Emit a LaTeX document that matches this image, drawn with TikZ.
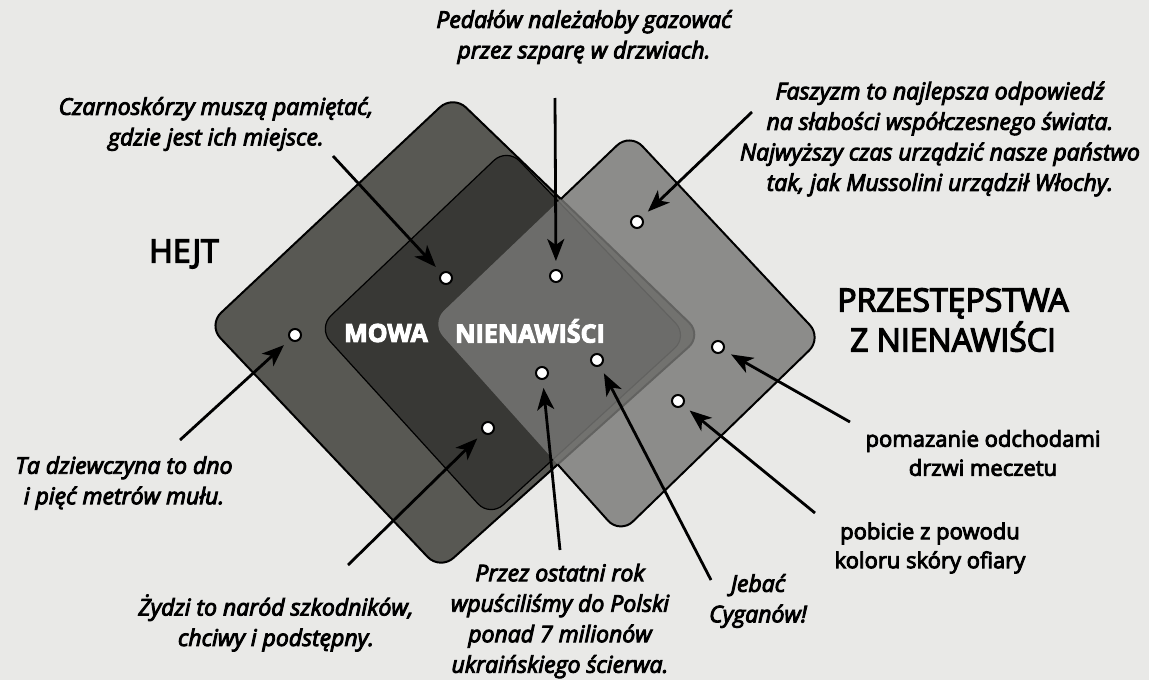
\documentclass[tikz,border=0pt]{standalone}
\usepackage{fontspec}
\setmainfont{Open Sans}[FakeBold=4]
\usetikzlibrary{calc,arrows.meta}
\definecolor{paper}{RGB}{233,233,231}
\definecolor{hejtgray}{RGB}{88,88,83}
\definecolor{mowagray}{RGB}{56,56,53}
\definecolor{crimegray}{RGB}{120,120,118}
\def\rhombpath(#1)(#2)(#3)(#4){($(#1)!0.5!(#2)$) -- (#2) -- (#3) -- (#4) -- (#1) -- cycle}
\tikzset{
  quote/.style={font=\fontsize{23}{30.5}\selectfont\itshape, align=center, inner sep=0pt},
  fact/.style={font=\fontsize{22}{29}\selectfont, align=center, inner sep=0pt},
  heading/.style={font=\fontsize{32}{40}\selectfont, align=center, inner sep=0pt},
  areaname/.style={font=\fontsize{25}{28}\selectfont\bfseries, text=white, inner sep=0pt},
  spot/.style={circle, draw=black, fill=white, line width=2pt, minimum size=12pt, inner sep=0pt},
  pointer/.style={line width=2.8pt, -{Stealth[length=22pt,width=17pt,inset=6pt]}, shorten >=8pt},
}

\begin{document}
\begin{tikzpicture}[x=1pt, y=-1pt]
	%%%%% START %%%%%
	
	\fill[paper] (0,0) rectangle (1149,680);
	
	\coordinate (hT) at (453,95);
	\coordinate (hR) at (702,335);
	\coordinate (hB) at (440,570);
	\coordinate (hL) at (208,325);
	
	\coordinate (mT) at (507,148);
	\coordinate (mR) at (688,336);
	\coordinate (mB) at (490,517);
	\coordinate (mL) at (318,328);
	
	\coordinate (pT) at (630,133);
	\coordinate (pR) at (822,338);
	\coordinate (pB) at (620,534);
	\coordinate (pL) at (431,323);
	
	\draw[line width=2pt, fill=hejtgray, rounded corners=18pt] \rhombpath(hT)(hR)(hB)(hL);
	\draw[line width=1.2pt, fill=mowagray, rounded corners=18pt] \rhombpath(mT)(mR)(mB)(mL);
	\fill[crimegray, fill opacity=0.82, rounded corners=18pt] \rhombpath(pT)(pR)(pB)(pL);
	\begin{scope}[even odd rule, rounded corners=18pt]
		\clip (0,0) rectangle (1149,680) \rhombpath(hT)(hR)(hB)(hL);
		\draw[line width=2pt] \rhombpath(pT)(pR)(pB)(pL);
	\end{scope}
	
	\node[heading] (hejtTitle) at (184,254) {HEJT};
	\node[heading] (crimeTitle) at (953,320) {PRZESTĘPSTWA\\Z NIENAWIŚCI};
	\node[areaname] (mowaWord) at (386,333) {MOWA};
	\node[areaname] (nienWord) at (530,331) {NIENAWIŚCI};
	
	\node[quote] (czLabel) at (216,124) {Czarnoskórzy muszą pamiętać,\\gdzie jest ich miejsce.};
	\node[quote] (pedLabel) at (584,37) {Pedałów należałoby gazować\\przez szparę w drzwiach.};
	\node[quote] (fasLabel) at (940,139) {Faszyzm to najlepsza odpowiedź\\na słabości współczesnego świata.\\Najwyższy czas urządzić nasze państwo\\tak, jak Mussolini urządził Włochy.};
	\node[quote] (taLabel) at (124,483) {Ta dziewczyna to dno\\i pięć metrów mułu.};
	\node[quote] (zydLabel) at (276,623) {Żydzi to naród szkodników,\\chciwy i podstępny.};
	\node[quote] (przLabel) at (560,621) {Przez ostatni rok\\wpuściliśmy do Polski\\ponad 7 milionów\\ukraińskiego ścierwa.};
	\node[quote] (jebLabel) at (758,601) {Jebać\\Cyganów!};
	\node[fact] (pomLabel) at (983,453) {pomazanie odchodami\\drzwi meczetu};
	\node[fact] (pobLabel) at (930,548) {pobicie z powodu\\koloru skóry ofiary};
	
	\node[spot] (taDot) at (295,335) {};
	\node[spot] (czDot) at (446,278) {};
	\node[spot] (pedDot) at (556,276) {};
	\node[spot] (fasDot) at (637,222) {};
	\node[spot] (zydDot) at (488,428) {};
	\node[spot] (przDot) at (542,373) {};
	\node[spot] (jebDot) at (597,360) {};
	\node[spot] (pomDot) at (718,347) {};
	\node[spot] (pobDot) at (678,401) {};
	
	\coordinate (czFrom) at (333,156);
	\coordinate (pedFrom) at (555,98);
	\coordinate (fasFrom) at (752,112);
	\coordinate (taFrom) at (180,440);
	\coordinate (zydFrom) at (348,565);
	\coordinate (przFrom) at (560,550);
	\coordinate (jebFrom) at (711,580);
	\coordinate (pomFrom) at (850,422);
	\coordinate (pobFrom) at (815,513);
	
	\draw[pointer] (czFrom) -- (czDot);
	\draw[pointer] (pedFrom) -- (pedDot);
	\draw[pointer] (fasFrom) -- (fasDot);
	\draw[pointer] (taFrom) -- (taDot);
	\draw[pointer] (zydFrom) -- (zydDot);
	\draw[pointer] (przFrom) -- (przDot);
	\draw[pointer] (jebFrom) -- (jebDot);
	\draw[pointer] (pomFrom) -- (pomDot);
	\draw[pointer] (pobFrom) -- (pobDot);
	
	%%%%% END %%%%%
\end{tikzpicture}
\end{document}
